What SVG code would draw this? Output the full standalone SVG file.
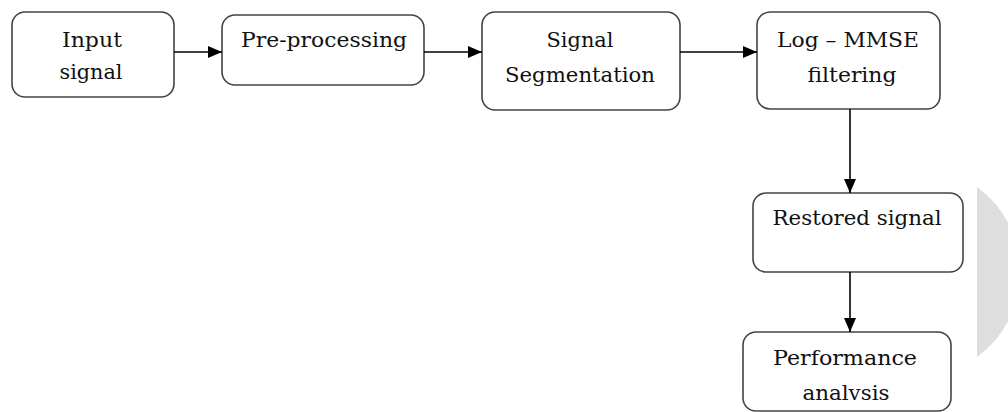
<svg xmlns="http://www.w3.org/2000/svg" width="1008" height="412" viewBox="0 0 1008 412">
<defs>
<marker id="ah" markerWidth="14" markerHeight="12" refX="14" refY="6" orient="auto" markerUnits="userSpaceOnUse">
<path d="M0,0 L14,6 L0,12 Z" fill="#000"/>
</marker>
<style>
.box{fill:#fff;stroke:#444;stroke-width:1.6}
.t{font-family:"DejaVu Serif","Liberation Serif",serif;font-size:21px;fill:#111;text-anchor:middle}
.c{stroke:#000;stroke-width:1.6;fill:none;marker-end:url(#ah)}
</style>
</defs>
<rect width="1008" height="412" fill="#fff"/>
<path d="M977,187 A105,105 0 0 1 977,357 Z" fill="#dedede"/>
<g id="n1"><rect class="box" x="12" y="12" width="162" height="85" rx="13"/>
<text class="t" x="92" y="47" textLength="60" lengthAdjust="spacingAndGlyphs">Input</text>
<text class="t" x="91" y="79" textLength="63" lengthAdjust="spacingAndGlyphs">signal</text></g>
<g id="n2"><rect class="box" x="222" y="15" width="202" height="70" rx="13"/>
<text class="t" x="324" y="47" textLength="166" lengthAdjust="spacingAndGlyphs">Pre-processing</text></g>
<g id="n3"><rect class="box" x="482" y="12" width="198" height="98" rx="13"/>
<text class="t" x="580" y="47" textLength="67" lengthAdjust="spacingAndGlyphs">Signal</text>
<text class="t" x="580" y="82" textLength="150" lengthAdjust="spacingAndGlyphs">Segmentation</text></g>
<g id="n4"><rect class="box" x="757" y="12" width="183" height="97" rx="13"/>
<text class="t" x="848" y="47" textLength="142" lengthAdjust="spacingAndGlyphs">Log – MMSE</text>
<text class="t" x="852" y="82" textLength="89" lengthAdjust="spacingAndGlyphs">filtering</text></g>
<g id="n5"><rect class="box" x="753" y="193" width="210" height="79" rx="13"/>
<text class="t" x="857" y="225" textLength="169" lengthAdjust="spacingAndGlyphs">Restored signal</text></g>
<g id="n6"><rect class="box" x="743" y="332" width="208" height="79" rx="13"/>
<text class="t" x="845" y="365" textLength="144" lengthAdjust="spacingAndGlyphs">Performance</text>
<text class="t" x="846" y="400" textLength="87" lengthAdjust="spacingAndGlyphs">analvsis</text></g>
<g id="connectors">
<line class="c" x1="174" y1="52" x2="222" y2="52"/>
<line class="c" x1="424" y1="52" x2="482" y2="52"/>
<line class="c" x1="680" y1="52" x2="757" y2="52"/>
<line class="c" x1="850" y1="109" x2="850" y2="193"/>
<line class="c" x1="850" y1="272" x2="850" y2="332"/>
</g>
</svg>
